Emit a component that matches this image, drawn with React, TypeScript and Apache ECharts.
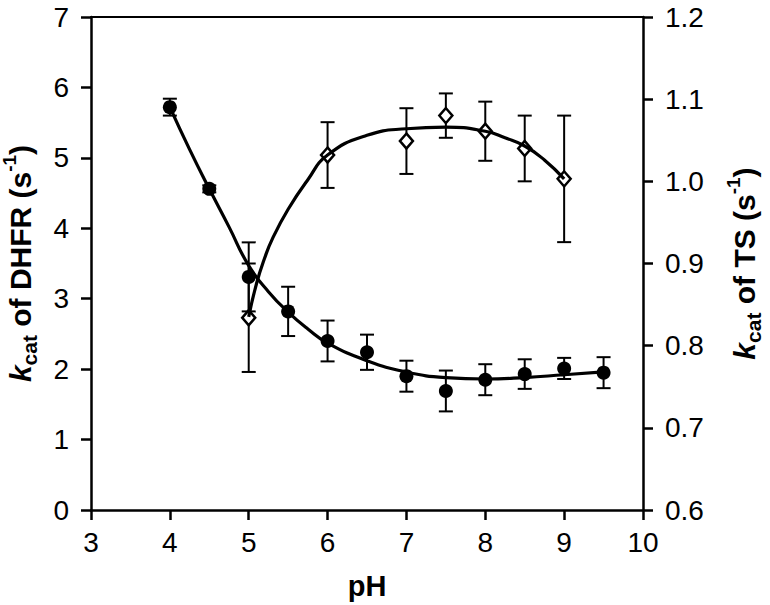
import React, { useEffect, useRef } from 'react';
import * as echarts from 'echarts';

const FONT = '"Liberation Sans", Arial, Helvetica, sans-serif';

// DHFR kcat (left axis), filled circles
const pH = [4, 4.5, 5, 5.5, 6, 6.5, 7, 7.5, 8, 8.5, 9, 9.5];
const dhfrKcat = [5.72, 4.56, 3.31, 2.82, 2.4, 2.24, 1.9, 1.69, 1.85, 1.93, 2.01, 1.95];
const dhfrErr = [0.12, 0.05, 0.49, 0.35, 0.29, 0.25, 0.22, 0.29, 0.22, 0.21, 0.15, 0.22];

// TS kcat (right axis), open diamonds
const tsPH = [5, 6, 7, 7.5, 8, 8.5, 9];
const tsKcat = [0.834, 1.032, 1.049, 1.08, 1.061, 1.04, 1.003];
const tsErr = [0.066, 0.04, 0.04, 0.027, 0.036, 0.04, 0.077];

// fitted curves
const dhfrFitPH = [4, 4.25, 4.5, 4.75, 5, 5.25, 5.5, 5.75, 6, 6.5, 7, 7.5, 8, 8.5, 9, 9.5];
const dhfrFit = [5.72, 5.12, 4.56, 4.02, 3.47, 3.1, 2.81, 2.57, 2.37, 2.12, 1.96, 1.88, 1.86, 1.88, 1.92, 1.96];
const tsFitPH = [5, 5.1, 5.2, 5.3, 5.5, 5.75, 6, 6.5, 7, 7.5, 8, 8.25, 8.5, 8.75, 9];
const tsFit = [0.835, 0.876, 0.906, 0.93, 0.966, 1.002, 1.032, 1.056, 1.064, 1.066, 1.061, 1.053, 1.043, 1.026, 1.003];

const xTicks = { min: 3, max: 10, interval: 1 };
const leftTicks = { min: 0, max: 7, interval: 1 };
const rightTicks = { min: 0.6, max: 1.2, interval: 0.1 };

const errRender = (params: any, api: any) => {
  const x = api.value(0);
  const lo = api.value(1);
  const hi = api.value(2);
  const p1 = api.coord([x, hi]);
  const p2 = api.coord([x, lo]);
  const hw = 7;
  const st = { stroke: '#000', lineWidth: 2 };
  return {
    type: 'group',
    children: [
      { type: 'line', shape: { x1: p1[0], y1: p1[1], x2: p2[0], y2: p2[1] }, style: st },
      { type: 'line', shape: { x1: p1[0] - hw, y1: p1[1], x2: p1[0] + hw, y2: p1[1] }, style: st },
      { type: 'line', shape: { x1: p2[0] - hw, y1: p2[1], x2: p2[0] + hw, y2: p2[1] }, style: st },
    ],
  };
};

const nameRich = {
  k: { fontFamily: FONT, fontSize: 30, fontWeight: 'bold', fontStyle: 'italic', color: '#000', lineHeight: 40 },
  sub: { fontFamily: FONT, fontSize: 21, fontWeight: 'bold', color: '#000', verticalAlign: 'bottom', lineHeight: 21 },
  n: { fontFamily: FONT, fontSize: 30, fontWeight: 'bold', color: '#000', lineHeight: 40 },
  sup: { fontFamily: FONT, fontSize: 19, fontWeight: 'bold', color: '#000', verticalAlign: 'top', lineHeight: 29 },
};

const axisLine = { show: true, lineStyle: { color: '#000', width: 2.5 } };
const axisTick = { show: true, inside: false, length: 10, lineStyle: { color: '#000', width: 2.5 } };
const labelStyle = { fontFamily: FONT, fontSize: 28, color: '#000' };

export default function App() {
  const ref = useRef<HTMLDivElement>(null);
  useEffect(() => {
    const chart = echarts.init(ref.current!, null, { renderer: 'svg' });
    const option: any = {
      animation: false,
      backgroundColor: '#fff',
      grid: { left: 91, right: 127, top: 17, bottom: 95, containLabel: false, outerBoundsMode: 'none' },
      xAxis: [
        {
          type: 'value',
          ...xTicks,
          name: 'pH',
          nameLocation: 'middle',
          nameGap: 61,
          nameTextStyle: { fontFamily: FONT, fontSize: 29, fontWeight: 'bold', color: '#000' },
          axisLine,
          axisTick,
          axisLabel: { ...labelStyle, margin: 18 },
          splitLine: { show: false },
        },
        {
          type: 'value',
          position: 'top',
          ...xTicks,
          axisLine: { show: true, lineStyle: { color: '#000', width: 2 } },
          axisTick: { show: false },
          axisLabel: { show: false },
          splitLine: { show: false },
        },
      ],
      yAxis: [
        {
          type: 'value',
          position: 'left',
          ...leftTicks,
          name: '{k|k}{sub|cat}{n| of DHFR (s}{sup|-1}{n|)}',
          nameLocation: 'middle',
          nameRotate: 90,
          nameGap: 51,
          nameTextStyle: { rich: nameRich, lineHeight: 40 },
          axisLine,
          axisTick,
          axisLabel: { ...labelStyle, margin: 22 },
          splitLine: { show: false },
        },
        {
          type: 'value',
          position: 'right',
          ...rightTicks,
          name: '{k|k}{sub|cat}{n| of TS (s}{sup|-1}{n|)}',
          nameLocation: 'middle',
          nameRotate: 90,
          nameGap: 81,
          nameTextStyle: { rich: nameRich, lineHeight: 40 },
          axisLine,
          axisTick,
          axisLabel: { ...labelStyle, margin: 22, formatter: (v: number) => v.toFixed(1) },
          splitLine: { show: false },
        },
      ],
      series: [
        {
          type: 'custom',
          name: 'DHFR err',
          xAxisIndex: 0,
          yAxisIndex: 0,
          renderItem: errRender,
          encode: { x: 0, y: [1, 2] },
          data: pH.map((x, i) => [x, dhfrKcat[i] - dhfrErr[i], dhfrKcat[i] + dhfrErr[i]]),
          z: 2,
          silent: true,
        },
        {
          type: 'custom',
          name: 'TS err',
          xAxisIndex: 0,
          yAxisIndex: 1,
          renderItem: errRender,
          encode: { x: 0, y: [1, 2] },
          data: tsPH.map((x, i) => [x, tsKcat[i] - tsErr[i], tsKcat[i] + tsErr[i]]),
          z: 2,
          silent: true,
        },
        {
          type: 'scatter',
          name: 'DHFR',
          xAxisIndex: 0,
          yAxisIndex: 0,
          symbol: 'circle',
          symbolSize: 14,
          itemStyle: { color: '#000', opacity: 1 },
          data: pH.map((x, i) => [x, dhfrKcat[i]]),
          z: 3,
        },
        {
          type: 'scatter',
          name: 'TS',
          xAxisIndex: 0,
          yAxisIndex: 1,
          symbol: 'diamond',
          symbolSize: [13, 15],
          itemStyle: { color: '#fff', borderColor: '#000', borderWidth: 2.5, opacity: 1 },
          data: tsPH.map((x, i) => [x, tsKcat[i]]),
          z: 3,
        },
        {
          type: 'line',
          name: 'DHFR fit',
          xAxisIndex: 0,
          yAxisIndex: 0,
          smooth: 0.5,
          showSymbol: false,
          symbol: 'none',
          lineStyle: { color: '#000', width: 3.2 },
          data: dhfrFitPH.map((x, i) => [x, dhfrFit[i]]),
          z: 4,
        },
        {
          type: 'line',
          name: 'TS fit',
          xAxisIndex: 0,
          yAxisIndex: 1,
          smooth: 0.5,
          showSymbol: false,
          symbol: 'none',
          lineStyle: { color: '#000', width: 3.2 },
          data: tsFitPH.map((x, i) => [x, tsFit[i]]),
          z: 4,
        },
      ],
    };
    chart.setOption(option);
    return () => chart.dispose();
  }, []);
  return (
    <div
      ref={ref}
      style={{ position: 'absolute', left: 0, top: 0, width: 770, height: 605, background: '#fff' }}
    />
  );
}
